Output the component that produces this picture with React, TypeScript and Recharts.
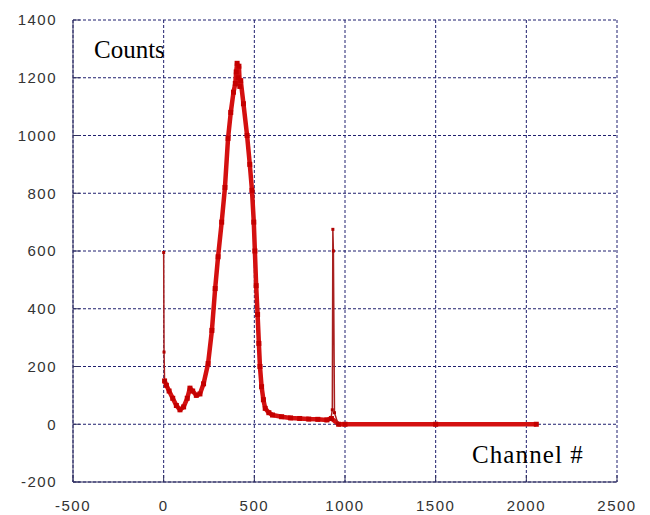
import React from 'react';
import { LineChart, Line, XAxis, YAxis, CartesianGrid } from 'recharts';

const xTicks = [-500, 0, 500, 1000, 1500, 2000, 2500];
const yTicks = [-200, 0, 200, 400, 600, 800, 1000, 1200, 1400];

// main spectrum, drawn thick
const channels = [5, 15, 30, 50, 70, 90, 110, 130, 145, 160, 180, 200, 220, 245, 266, 284, 300, 320, 338, 355, 370, 385, 395, 400, 405, 410, 415, 420, 425, 440, 460, 475, 487, 497, 503, 510, 518, 525, 531, 540, 550, 560, 580, 600, 650, 700, 750, 800, 850, 900, 925, 965, 1000, 1500, 2055];
const counts = [150, 135, 115, 90, 65, 50, 60, 90, 125, 115, 100, 105, 140, 210, 325, 470, 580, 700, 820, 990, 1080, 1150, 1180, 1220, 1250, 1200, 1240, 1170, 1190, 1110, 1000, 900, 810, 700, 600, 480, 380, 280, 200, 130, 85, 55, 40, 32, 26, 22, 20, 18, 17, 15, 20, 0, 0, 0, 0];

// narrow lines, drawn thin
const pulserChannels = [0, 2, 5];
const pulserCounts = [595, 250, 150];
const peakChannels = [922, 930, 933, 936, 942, 962];
const peakCounts = [18, 50, 675, 600, 40, 0];

const toRows = (xs: number[], ys: number[]) => xs.map((ch, i) => ({ ch, counts: ys[i] }));

const mainData = toRows(channels, counts);
const pulserData = toRows(pulserChannels, pulserCounts);
const peakData = toRows(peakChannels, peakCounts);

const squareDot = (size: number, fill: string) => (props: any) => {
  const { cx, cy, index } = props;
  if (cx == null || cy == null) return <g key={`n-${index}`} />;
  return <rect key={`d-${index}`} x={cx - size / 2} y={cy - size / 2} width={size} height={size} fill={fill} />;
};

const frame = '#2e2e5e';
const tickFont = { fill: '#333', fontSize: 15, fontFamily: 'Liberation Sans, Arial, sans-serif', letterSpacing: 1.5 };
const labelStyle: React.CSSProperties = {
  position: 'absolute',
  fontFamily: '"Liberation Serif", "Times New Roman", serif',
  fontSize: 25,
  lineHeight: '25px',
  color: '#000',
  whiteSpace: 'nowrap',
};

export default function App() {
  return (
    <div style={{ position: 'absolute', left: 0, top: 0, width: 650, height: 515, background: '#fff' }}>
      <LineChart width={650} height={515} margin={{ top: 20, right: 33, left: 13, bottom: 3 }}>
        <CartesianGrid stroke="#1f1f6e" strokeDasharray="3 2" />
        <XAxis
          type="number"
          dataKey="ch"
          domain={[-500, 2500]}
          ticks={xTicks}
          height={30}
          tickSize={-7}
          tickMargin={25}
          stroke={frame}
          tick={tickFont}
          allowDuplicatedCategory={false}
        />
        <XAxis
          xAxisId="top"
          orientation="top"
          type="number"
          dataKey="ch"
          domain={[-500, 2500]}
          ticks={xTicks}
          height={0}
          tickSize={-7}
          tickFormatter={() => ''}
          stroke={frame}
        />
        <YAxis
          type="number"
          domain={[-200, 1400]}
          ticks={yTicks}
          width={60}
          tickSize={-7}
          tickMargin={23}
          stroke={frame}
          tick={tickFont}
        />
        <YAxis
          yAxisId="right"
          orientation="right"
          type="number"
          domain={[-200, 1400]}
          ticks={yTicks}
          width={0}
          tickSize={-7}
          tickFormatter={() => ''}
          stroke={frame}
        />
        <Line
          data={mainData}
          dataKey="counts"
          type="linear"
          stroke="#d41010"
          strokeWidth={4.5}
          strokeLinejoin="round"
          dot={squareDot(5, '#c40000')}
          isAnimationActive={false}
        />
        <Line
          data={pulserData}
          dataKey="counts"
          type="linear"
          stroke="#a82020"
          strokeWidth={1.5}
          dot={squareDot(3, '#b00000')}
          isAnimationActive={false}
        />
        <Line
          data={peakData}
          dataKey="counts"
          type="linear"
          stroke="#a82020"
          strokeWidth={1.5}
          dot={squareDot(3, '#b00000')}
          isAnimationActive={false}
        />
      </LineChart>
      <div style={{ ...labelStyle, left: 94, top: 37 }}>Counts</div>
      <div style={{ ...labelStyle, left: 472, top: 442, letterSpacing: 1.1 }}>Channel #</div>
    </div>
  );
}
